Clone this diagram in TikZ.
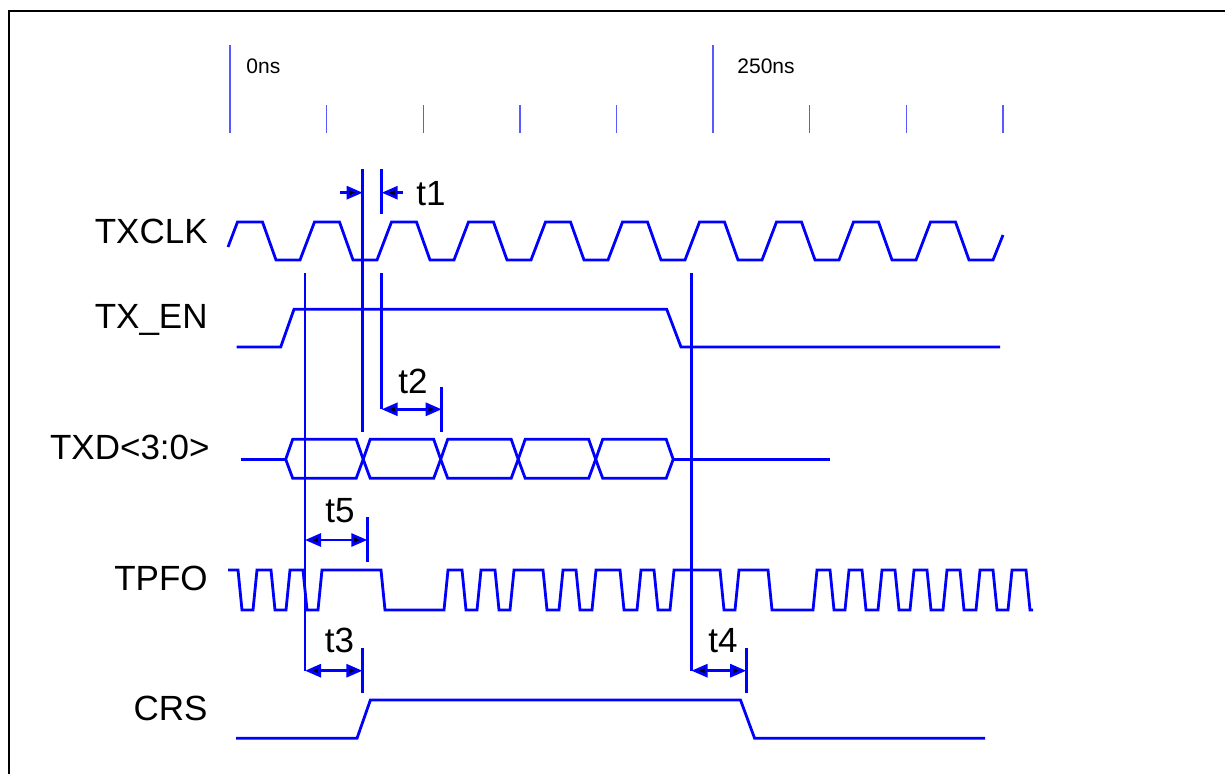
\documentclass[tikz,border=0pt]{standalone}
\usepackage{fontspec}
\setmainfont{Liberation Sans}
\usetikzlibrary{arrows.meta}
\tikzset{
  wave/.style={blue, line width=1.4pt, line join=miter},
  refline/.style={blue, line width=1.4pt},
  scaletick/.style={blue!65, line width=0.7pt},
  dimarrow/.style={blue, line width=1.4pt,
    {Triangle[length=8pt,width=6.5pt,fill=black]}-{Triangle[length=8pt,width=6.5pt,fill=black]}},
  onearrow/.style={blue, line width=1.4pt, -{Triangle[length=8pt,width=6.5pt,fill=black]}},
  signame/.style={anchor=base east, inner sep=0pt, font=\fontsize{17.5}{20}\selectfont},
  timename/.style={anchor=center, inner sep=0pt, font=\fontsize{17.5}{20}\selectfont},
  scalename/.style={anchor=base west, inner sep=0pt, font=\fontsize{10.5}{12}\selectfont}
}
\begin{document}
\begin{tikzpicture}[x=0.5pt, y=-0.5pt]
\useasboundingbox (0,0) rectangle (1225,774);
\draw [black, line width=1.4pt] (9,774) -- (9,11) -- (1225,11);

% time scale
\draw [scaletick] (230,45) -- (230,132.7);
\draw [scaletick] (713,45) -- (713,132.7);
\foreach \x in {326.6,423.2,519.8,616.4,809.6,906.2,1002.8}
  \draw [scaletick] (\x,105) -- (\x,132.7);
\node (zero) [scalename] at (246,74) {0ns};
\node (quarter) [scalename] at (737,74) {250ns};

% signal names
\node (txclk) [signame] at (208,244) {TXCLK};
\node (txen) [signame] at (208,329) {TX\_EN};
\node (txd) [signame] at (210,459) {TXD<3:0>};
\node (tpfo) [signame] at (208,590) {TPFO};
\node (crs) [signame] at (208,720) {CRS};

% TXCLK
\draw [wave] (228,247) -- (237.5,222)
  \foreach \k in {0,...,8} { -- ({262.5+77*\k},222) -- ({276+77*\k},260)
    -- ({300+77*\k},260) -- ({314.5+77*\k},222) }
  -- (955.5,222) -- (969,260) -- (993,260) -- (1003,235);

% TX_EN
\draw [wave] (236.7,347) -- (280.7,347) -- (294,309.3) -- (666.7,309.3)
  -- (681,347) -- (1000,347);

% TXD<3:0>
\draw [wave] (240.7,459.3) -- (285.7,459.3);
\foreach \i in {0,...,4}
  \draw [wave] ({285.7+77.5*\i},459.3) -- ({292.7+77.5*\i},439.3)
    -- ({356.2+77.5*\i},439.3) -- ({363.2+77.5*\i},459.3)
    -- ({356.2+77.5*\i},478.3) -- ({292.7+77.5*\i},478.3) -- cycle;
\draw [wave] (673.2,459.3) -- (830,459.3);

% TPFO
\draw [wave] (228,570) -- (238,570) -- (242,610)
  \foreach \a/\b in {253/271,286/303,318/381,444/462,477/495,510/543,559/576,
      592/620,637/654,670/720,735/768,813/830,845/862,878/895,910/927,
      943/960,976/993,1008/1026}
    { -- (\a,610) -- ({\a+4},570) -- (\b,570) -- ({\b+4},610) }
  -- (1033,610);

% CRS
\draw [wave] (236,738.3) -- (357,738.3) -- (370.4,700) -- (740.5,700)
  -- (754.6,738.3) -- (985,738.3);

% reference lines
\draw [refline] (305,273) -- (305,670.7);
\draw [refline] (362.7,169.3) -- (362.7,431.7);
\draw [refline] (381.7,169.3) -- (381.7,214);
\draw [refline] (381.7,273) -- (381.7,409.3);
\draw [refline] (691.5,273) -- (691.5,670.7);
\draw [refline] (441.7,387.3) -- (441.7,432.3);
\draw [refline] (367.3,517.3) -- (367.3,562.3);
\draw [refline] (362.4,648) -- (362.4,692.7);
\draw [refline] (746.2,648) -- (746.2,692.7);

% timings
\coordinate (t1a) at (340,192.7);
\coordinate (t1b) at (362.7,192.7);
\coordinate (t1c) at (403.3,192.7);
\coordinate (t1d) at (381.7,192.7);
\draw [onearrow] (t1a) -- (t1b);
\draw [onearrow] (t1c) -- (t1d);
\node (t1) [timename] at (431,193.3) {t1};

\coordinate (t2a) at (381.7,409.3);
\coordinate (t2b) at (441.7,409.3);
\draw [dimarrow] (t2a) -- (t2b);
\node (t2) [timename] at (413,381.5) {t2};

\coordinate (t5a) at (305,540);
\coordinate (t5b) at (367.3,540);
\draw [dimarrow] (t5a) -- (t5b);
\node (t5) [timename] at (340,511) {t5};

\coordinate (t3a) at (305,670.7);
\coordinate (t3b) at (362.4,670.7);
\draw [dimarrow] (t3a) -- (t3b);
\node (t3) [timename] at (339.5,640.5) {t3};

\coordinate (t4a) at (691.5,670.7);
\coordinate (t4b) at (746.2,670.7);
\draw [dimarrow] (t4a) -- (t4b);
\node (t4) [timename] at (723,640.5) {t4};
\end{tikzpicture}
\end{document}
